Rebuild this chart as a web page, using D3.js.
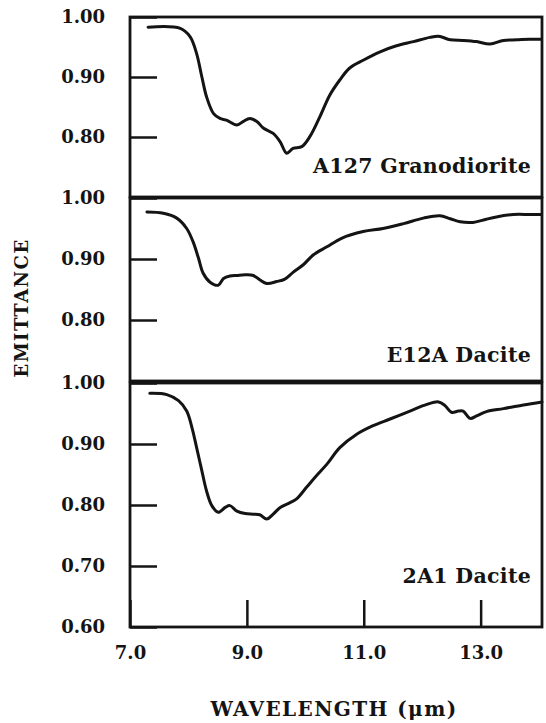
<!DOCTYPE html>
<html>
<head>
<meta charset="utf-8">
<script src="https://cdn.jsdelivr.net/npm/d3@7"></script>
<style>
  html, body { margin: 0; padding: 0; background: #fff; }
  svg { display: block; }
</style>
</head>
<body>
<svg id="chart" width="546" height="723"></svg>
<script>
// ---------------- data ----------------
const sampleNames = ["A127 Granodiorite", "E12A Dacite", "2A1 Dacite"];

const wlA127 = [7.31, 7.86, 8.03, 8.14, 8.23, 8.31, 8.43, 8.54, 8.65, 8.83, 8.94, 9.05, 9.17, 9.28, 9.45, 9.57, 9.68, 9.79, 9.94, 10.08, 10.25, 10.42, 10.59, 10.76, 10.99, 11.28, 11.56, 11.85, 12.13, 12.28, 12.48, 12.70, 12.93, 13.16, 13.39, 13.62, 13.84, 14.03];
const emA127 = [0.983, 0.981, 0.967, 0.939, 0.900, 0.867, 0.839, 0.831, 0.828, 0.820, 0.826, 0.831, 0.826, 0.815, 0.806, 0.792, 0.773, 0.781, 0.784, 0.801, 0.834, 0.870, 0.895, 0.915, 0.928, 0.942, 0.952, 0.959, 0.966, 0.968, 0.962, 0.961, 0.959, 0.955, 0.961, 0.962, 0.963, 0.963];

const wlE12A = [7.29, 7.57, 7.80, 7.97, 8.08, 8.17, 8.25, 8.37, 8.51, 8.60, 8.71, 8.83, 8.97, 9.11, 9.22, 9.34, 9.51, 9.65, 9.79, 9.97, 10.14, 10.37, 10.62, 10.99, 11.33, 11.68, 12.02, 12.30, 12.48, 12.65, 12.87, 13.05, 13.27, 13.56, 13.84, 14.04];
const emE12A = [0.977, 0.975, 0.967, 0.950, 0.928, 0.902, 0.877, 0.862, 0.857, 0.868, 0.872, 0.873, 0.874, 0.873, 0.866, 0.860, 0.863, 0.867, 0.878, 0.891, 0.907, 0.920, 0.934, 0.945, 0.950, 0.958, 0.967, 0.971, 0.966, 0.961, 0.960, 0.964, 0.969, 0.973, 0.973, 0.973];

const wl2A1 = [7.34, 7.63, 7.83, 7.97, 8.06, 8.14, 8.23, 8.31, 8.40, 8.51, 8.63, 8.71, 8.83, 8.97, 9.11, 9.22, 9.34, 9.45, 9.57, 9.74, 9.85, 10.02, 10.19, 10.37, 10.59, 10.88, 11.16, 11.45, 11.79, 12.08, 12.28, 12.39, 12.50, 12.62, 12.70, 12.82, 12.93, 13.10, 13.39, 13.73, 14.05];
const em2A1 = [0.983, 0.981, 0.971, 0.954, 0.927, 0.894, 0.856, 0.823, 0.799, 0.788, 0.796, 0.799, 0.790, 0.786, 0.785, 0.784, 0.777, 0.785, 0.796, 0.804, 0.810, 0.829, 0.848, 0.867, 0.894, 0.916, 0.930, 0.941, 0.954, 0.965, 0.969, 0.963, 0.952, 0.954, 0.954, 0.942, 0.946, 0.953, 0.958, 0.964, 0.969];

const yDomainTop = [0.70, 1.00];
const yDomainMid = [0.70, 1.00];
const yDomainBot = [0.60, 1.00];
const yTicksTop = [0.80, 0.90, 1.00];
const yTicksMid = [0.80, 0.90, 1.00];
const yTicksBot = [0.60, 0.70, 0.80, 0.90, 1.00];
const xDomain = [7.0, 14.05];
const xTicks = [7.0, 9.0, 11.0, 13.0];
const xTitle = "WAVELENGTH (\u03bcm)";
const yTitle = "EMITTANCE";

// ---------------- layout ----------------
const svg = d3.select("#chart");
const left = 130, right = 542;
const panels = [
  { name: sampleNames[0], wl: wlA127, em: emA127, domain: yDomainTop, ticks: yTicksTop, top: 17,  bottom: 197, labelY: 173 },
  { name: sampleNames[1], wl: wlE12A, em: emE12A, domain: yDomainMid, ticks: yTicksMid, top: 198, bottom: 381, labelY: 362 },
  { name: sampleNames[2], wl: wl2A1,  em: em2A1,  domain: yDomainBot, ticks: yTicksBot, top: 383, bottom: 627, labelY: 583 }
];

const x = d3.scaleLinear().domain(xDomain).range([left, right]);
const serif = "'DejaVu Serif', 'Liberation Serif', serif";
const ink = "#141414";

panels.forEach((p, i) => {
  const y = d3.scaleLinear().domain(p.domain).range([p.bottom, p.top]);

  // curve
  const pts = p.wl.map((w, k) => [w, p.em[k]]);
  const line = d3.line()
    .x(d => x(d[0]))
    .y(d => y(d[1]))
    .curve(d3.curveCatmullRom.alpha(0.5));
  svg.append("path")
    .datum(pts)
    .attr("d", line)
    .attr("fill", "none")
    .attr("stroke", ink)
    .attr("stroke-width", 3)
    .attr("stroke-linejoin", "round")
    .attr("stroke-linecap", "round");

  // y axis (ticks inside)
  const yAxis = d3.axisLeft(y)
    .tickValues(p.ticks)
    .tickFormat(d3.format(".2f"))
    .tickSizeInner(-27)
    .tickSizeOuter(0)
    .tickPadding(25);
  const gy = svg.append("g")
    .attr("transform", `translate(${left},0)`)
    .call(yAxis);
  gy.select(".domain").remove();
  gy.selectAll(".tick line").attr("stroke", ink).attr("stroke-width", 2.5);
  gy.selectAll(".tick text")
    .attr("fill", ink)
    .style("font-family", serif)
    .style("font-weight", "bold")
    .style("font-size", "18px");

  // x ticks on bottom panel
  if (i === panels.length - 1) {
    const xAxis = d3.axisBottom(x)
      .tickValues(xTicks)
      .tickFormat(d3.format(".1f"))
      .tickSizeInner(-27)
      .tickSizeOuter(0)
      .tickPadding(19);
    const gx = svg.append("g")
      .attr("transform", `translate(0,${p.bottom})`)
      .call(xAxis);
    gx.select(".domain").remove();
    gx.selectAll(".tick line").attr("stroke", ink).attr("stroke-width", 2.5);
    gx.selectAll(".tick text")
      .attr("fill", ink)
      .style("font-family", serif)
      .style("font-weight", "bold")
      .style("font-size", "18px");
  }

  // frame
  svg.append("rect")
    .attr("x", left)
    .attr("y", p.top)
    .attr("width", right - left)
    .attr("height", p.bottom - p.top)
    .attr("fill", "none")
    .attr("stroke", ink)
    .attr("stroke-width", 2.8);

  // sample label
  svg.append("text")
    .attr("x", 531)
    .attr("y", p.labelY)
    .attr("text-anchor", "end")
    .attr("fill", ink)
    .style("font-family", serif)
    .style("font-weight", "bold")
    .style("font-size", "20.5px")
    .style("letter-spacing", "0.3px")
    .text(p.name);
});

// axis titles
svg.append("text")
  .attr("x", 334)
  .attr("y", 716)
  .attr("text-anchor", "middle")
  .attr("fill", ink)
  .style("font-family", serif)
  .style("font-weight", "bold")
  .style("font-size", "20px")
  .style("letter-spacing", "1.4px")
  .text(xTitle);

svg.append("text")
  .attr("transform", "translate(28,308) rotate(-90)")
  .attr("text-anchor", "middle")
  .attr("fill", ink)
  .style("font-family", serif)
  .style("font-weight", "bold")
  .style("font-size", "18px")
  .style("letter-spacing", "1.5px")
  .text(yTitle);
</script>
</body>
</html>
